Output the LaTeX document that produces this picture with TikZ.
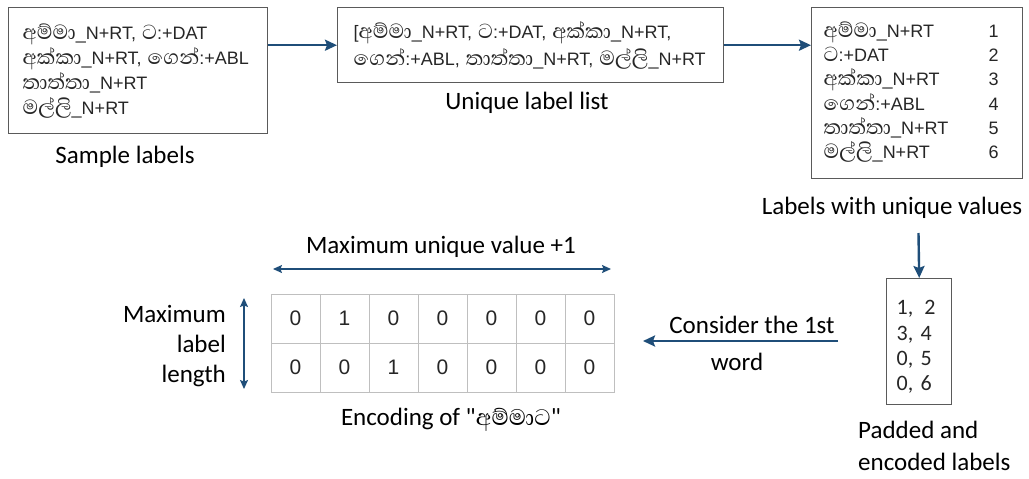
\documentclass[tikz,border=0pt]{standalone}
\usepackage{fontspec}
\setmainfont{Carlito}
\newfontfamily\carlq{Carlito}[Ligatures=TeXOff]
\newfontfamily\arialf{Liberation Sans}
\newfontfamily\sinf[Script=Sinhala,Scale=1.45]{Abhaya Libre}
\newfontfamily\sinsmall[Script=Sinhala,Scale=1.15]{Abhaya Libre}
\usetikzlibrary{arrows.meta}
\newcommand{\si}[1]{{\sinf #1}}
\definecolor{arrowblue}{HTML}{1F4E79}
\definecolor{boxgray}{HTML}{5A5A5A}
\definecolor{gridgray}{HTML}{BFBFBF}
\definecolor{txt}{HTML}{262626}
\begin{document}
\begin{tikzpicture}[x=1pt,y=-1pt,
  box/.style={draw=boxgray, line width=1.4pt, inner ysep=0pt, anchor=north west, align=left, text=txt,
    font=\arialf\fontsize{18}{25}\selectfont},
  lab/.style={font=\fontsize{25}{30}\selectfont, inner sep=0pt, text=black},
  cell/.style={draw=gridgray, line width=0.8pt, minimum width=49pt, minimum height=49pt, inner sep=0pt,
    font=\arialf\fontsize{21}{25}\selectfont, text=txt},
  arr/.style={draw=arrowblue, line width=2.4pt, -{Stealth[length=12pt,width=11pt,inset=2pt]}},
  darr/.style={draw=arrowblue, line width=1.3pt, {Stealth[length=9pt,width=8pt,inset=1.5pt]}-{Stealth[length=9pt,width=8pt,inset=1.5pt]}}
]
\useasboundingbox (0,0) rectangle (1029,479);

% Box 1: sample labels
\node[box, minimum width=259pt, minimum height=126pt, text width=231pt, inner xsep=14pt] (b1) at (8,7)
  {\mbox{\si{අම්මා}\_N+RT, \si{ට}:+DAT}\\
   \mbox{\si{අක්කා}\_N+RT, \si{ගෙන්}:+ABL}\\
   \mbox{\si{තාත්තා}\_N+RT}\\
   \mbox{\si{මල්ලි}\_N+RT}};
\node[lab] (l1) at (125,157) {Sample labels};

% Box 2: unique label list
\node[box, minimum width=386pt, minimum height=75pt, text width=354pt, inner xsep=16pt,
  font=\arialf\fontsize{18}{27}\selectfont] (b2) at (337,7)
  {\mbox{[\si{අම්මා}\_N+RT, \si{ට}:+DAT, \si{අක්කා}\_N+RT,}\\
   \mbox{\si{ගෙන්}:+ABL, \si{තාත්තා}\_N+RT, \si{මල්ලි}\_N+RT}};
\node[lab] (l2) at (527,103) {Unique label list};

% Box 3: labels with unique values
\node[box, minimum width=211pt, minimum height=171pt, text width=187pt, inner xsep=12pt,
  font=\arialf\fontsize{18}{24}\selectfont] (b3) at (811,7)
  {\begin{tabular}{@{}p{165pt}@{}l@{}}
   \si{අම්මා}\_N+RT & 1\\
   \si{ට}:+DAT & 2\\
   \si{අක්කා}\_N+RT & 3\\
   \si{ගෙන්}:+ABL & 4\\
   \si{තාත්තා}\_N+RT & 5\\
   \si{මල්ලි}\_N+RT & 6
   \end{tabular}};
\node[lab] (l3) at (892,208) {Labels with unique values};

% Box 4: padded and encoded labels
\node[box, minimum width=65pt, minimum height=126pt, text width=45pt, inner xsep=10pt,
  font=\fontsize{22}{25.3}\selectfont] (b4) at (886,278)
  {\rule{0pt}{25pt}1,\ \,2\\3, 4\\0, 5\\0, 6};
\node[lab, anchor=west, align=left, font=\fontsize{25}{32}\selectfont] (l5) at (858,446)
  {Padded and\\encoded labels};

% Connectors
\draw[arr] (b2.west -| b1.east) -- (b2.west);
\draw[arr] (b2.east) -- (b2.east -| b3.west);
\coordinate (d0) at (918.5,233);
\draw[arr] (d0) -- (b4.north);
\coordinate (c0) at (838,341);
\coordinate (c1) at (643,341);
\draw[arr] (c0) -- (c1);
\node[lab] (l6) at (752,325) {Consider the 1st};
\node[lab] (l7) at (737,362) {word};

% Encoding table
\foreach \r/\vals in {0/{0,1,0,0,0,0,0}, 1/{0,0,1,0,0,0,0}} {
  \foreach \v [count=\c from 0] in \vals {
    \node[cell] (t\r\c) at ({295.5+49*\c},{318.5+49*\r}) {\v};
  }
}
\coordinate (h0) at (273,269);
\coordinate (h1) at (611,269);
\draw[darr] (h0) -- (h1);
\node[lab] (l4) at (441,247) {Maximum unique value +1};
\coordinate (v0) at (244,298);
\coordinate (v1) at (244,389);
\draw[darr] (v0) -- (v1);
\node[lab, anchor=east, align=right] (l8) at (226,346) {Maximum\\label\\length};
\node[lab] (l9) at (451,420) {Encoding of {\carlq"}{\sinsmall අම්මාට}{\carlq"}};
\end{tikzpicture}
\end{document}
